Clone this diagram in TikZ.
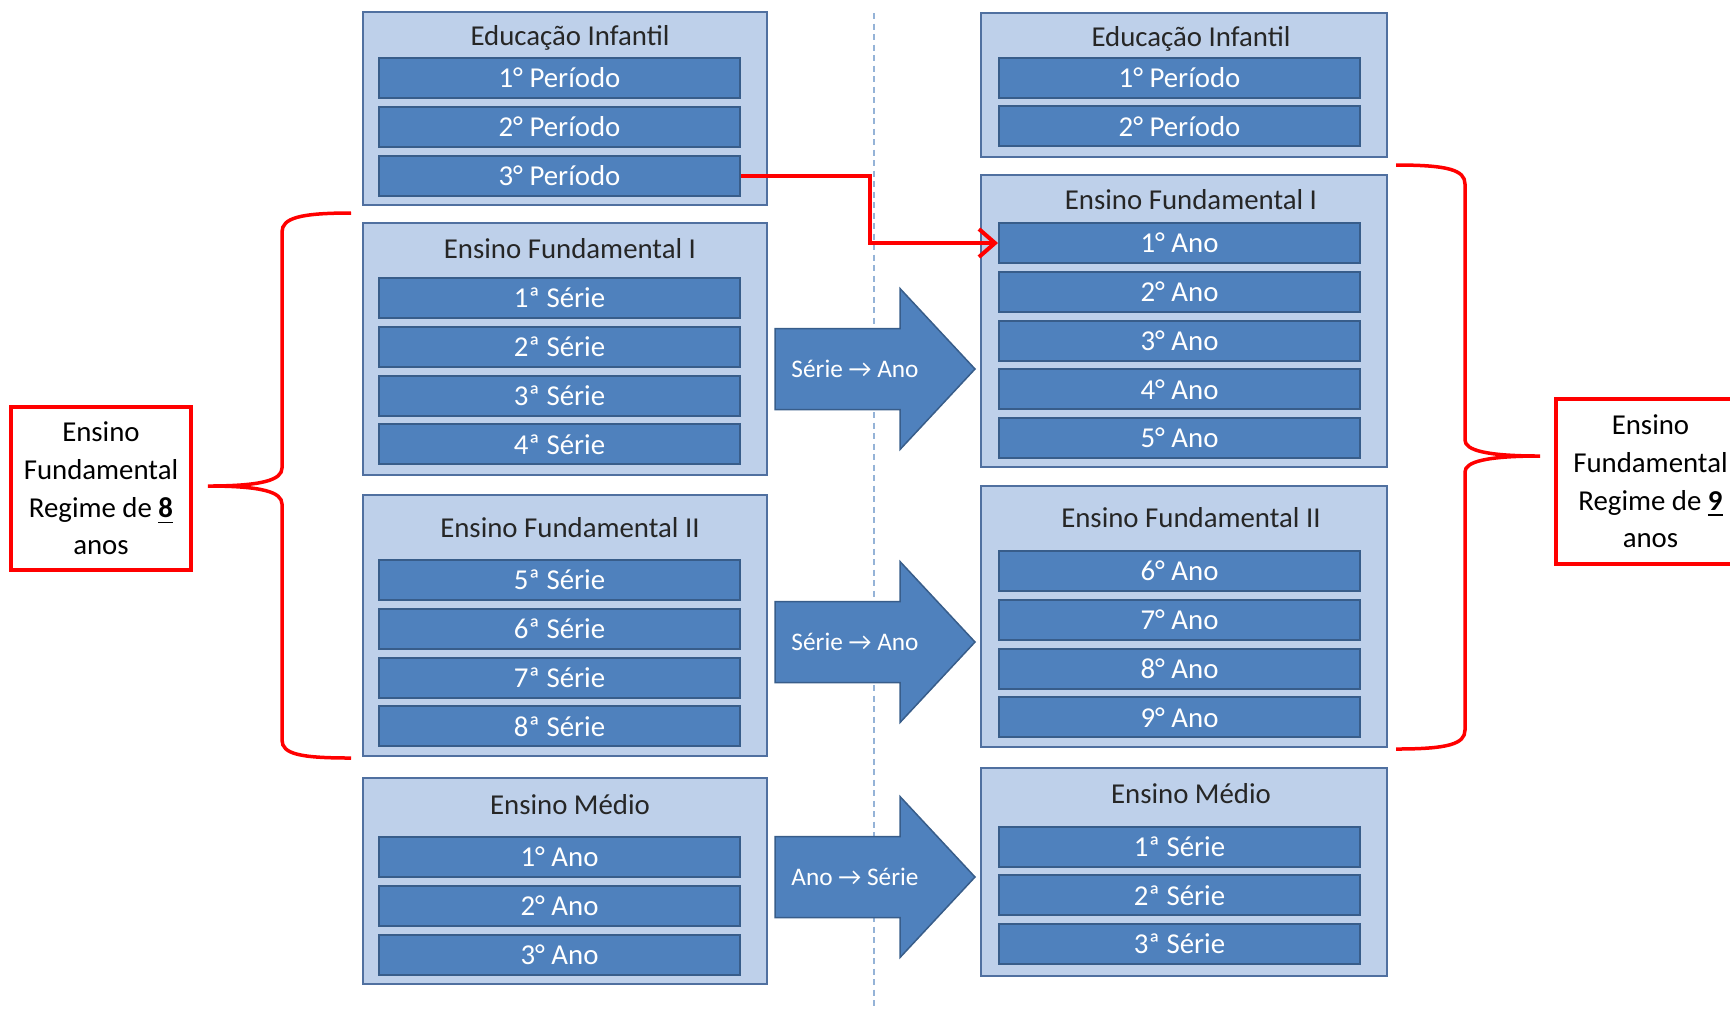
\documentclass[tikz,border=0pt]{standalone}
\usepackage{fontspec}
\setmainfont{Carlito}
\usetikzlibrary{arrows.meta, positioning, fit}

\definecolor{boxfill}{RGB}{190,208,234}
\definecolor{boxline}{RGB}{80,112,160}
\definecolor{barfill}{RGB}{79,129,189}
\definecolor{barline}{RGB}{56,93,138}
\definecolor{sepline}{RGB}{149,179,215}

\tikzset{
  grupo/.style={draw=boxline, line width=0.25mm, fill=boxfill, inner sep=0pt},
  barra/.style={draw=barline, line width=0.2mm, fill=barfill, text=white,
                minimum width=36.1mm, minimum height=4mm, inner sep=0pt},
  titulo/.style={text=black!85, inner sep=0pt},
  seta/.style={draw=barline, line width=0.15mm, fill=barfill},
  chave/.style={draw=red, line width=0.35mm},
  legenda/.style={draw=red, line width=0.4mm, align=center, inner sep=0pt},
  ligacao/.style={draw=red, line width=0.4mm, -{Straight Barb[length=1.6mm,width=2.8mm]}}
}

\begin{document}
\begin{tikzpicture}[x=0.1mm, y=-0.1mm, font=\fontsize{8.2}{10.7}\selectfont]
  \useasboundingbox (0,0) rectangle (1730,1008);
  % separator
  \draw[sepline, line width=0.2mm, dash pattern=on 0.6mm off 0.45mm] (874,13) -- (874,1008);

  % regime de 8 anos (left)
  \node[grupo, fit={(363,12) (767,205)}]  (ei8) {};
  \node[grupo, fit={(363,223) (767,475)}] (ef8a) {};
  \node[grupo, fit={(363,495) (767,756)}] (ef8b) {};
  \node[grupo, fit={(363,778) (767,984)}] (em8) {};
  \node[titulo] (tei8)  at (570,38)  {Educação Infantil};
  \node[titulo] (tef8a) at (570,249) {Ensino Fundamental I};
  \node[titulo] (tef8b) at (570,528) {Ensino Fundamental II};
  \node[titulo] (tem8)  at (570,805) {Ensino Médio};
  \foreach \t [count=\i] in {1° Período, 2° Período, 3° Período}
    \node[barra] (pe\i) at (559.5,{78+48.8*(\i-1)}) {\t};
  \foreach \t [count=\i] in {1ª Série, 2ª Série, 3ª Série, 4ª Série}
    \node[barra] (s\i) at (559.5,{298+48.8*(\i-1)}) {\t};
  \foreach \t [count=\i from 5] in {5ª Série, 6ª Série, 7ª Série, 8ª Série}
    \node[barra] (s\i) at (559.5,{580+48.8*(\i-5)}) {\t};
  \foreach \t [count=\i] in {1° Ano, 2° Ano, 3° Ano}
    \node[barra] (m\i) at (559.5,{857+48.8*(\i-1)}) {\t};

  % regime de 9 anos (right)
  \node[grupo, fit={(981,13) (1387,157)}]  (ei9) {};
  \node[grupo, fit={(981,175) (1387,467)}] (ef9a) {};
  \node[grupo, fit={(981,486) (1387,747)}] (ef9b) {};
  \node[grupo, fit={(981,768) (1387,976)}] (em9) {};
  \node[titulo] (tei9)  at (1191,39)  {Educação Infantil};
  \node[titulo] (tef9a) at (1191,200) {Ensino Fundamental I};
  \node[titulo] (tef9b) at (1191,518) {Ensino Fundamental II};
  \node[titulo] (tem9)  at (1191,794) {Ensino Médio};
  \foreach \t [count=\i] in {1° Período, 2° Período}
    \node[barra] (pf\i) at (1179.5,{77.5+48.8*(\i-1)}) {\t};
  \foreach \t [count=\i] in {1° Ano, 2° Ano, 3° Ano, 4° Ano, 5° Ano}
    \node[barra] (a\i) at (1179.5,{243+48.8*(\i-1)}) {\t};
  \foreach \t [count=\i from 6] in {6° Ano, 7° Ano, 8° Ano, 9° Ano}
    \node[barra] (a\i) at (1179.5,{571+48.8*(\i-6)}) {\t};
  \foreach \t [count=\i] in {1ª Série, 2ª Série, 3ª Série}
    \node[barra] (n\i) at (1179.5,{846.5+48.8*(\i-1)}) {\t};

  % big arrows
  \foreach \c/\t/\n in {369/Série → Ano/sa1, 642/Série → Ano/sa2, 877/Ano → Série/as3} {
    \draw[seta] (775,\c-40.5) -- (900,\c-40.5) -- (900,\c-80.5) -- (975,\c)
      -- (900,\c+80.5) -- (900,\c+40.5) -- (775,\c+40.5) -- cycle;
    \node[text=white, inner sep=0pt, font=\fontsize{7.2}{9}\selectfont] (\n) at (855,\c) {\t};
  }

  % 3o periodo -> 1o ano
  \draw[ligacao] (pe3.east) -- ++(129,0) |- (a1.west);

  % braces and labels
  \draw[chave] (351,213) .. controls (300,213) and (282,218) .. (282,232) -- (282,468)
    .. controls (282,480) and (262,486) .. (208,486)
    .. controls (262,486) and (282,492) .. (282,504) -- (282,740)
    .. controls (282,754) and (300,758) .. (351,758);
  \draw[chave] (1396,165) .. controls (1448,165) and (1465,170) .. (1465,184) -- (1465,440)
    .. controls (1465,450) and (1485,456) .. (1540,456)
    .. controls (1485,456) and (1465,462) .. (1465,472) -- (1465,730)
    .. controls (1465,744) and (1448,749) .. (1396,749);
  \node[legenda, minimum width=18mm, minimum height=16.3mm] (r8) at (101,488.5)
    {Ensino\\Fundamental\\Regime de \underline{\textbf{8}}\\anos};
  \node[legenda, minimum width=18.9mm, minimum height=16.5mm] (r9) at (1650.5,481.5)
    {Ensino\\Fundamental\\Regime de \underline{\textbf{9}}\\anos};
\end{tikzpicture}
\end{document}
